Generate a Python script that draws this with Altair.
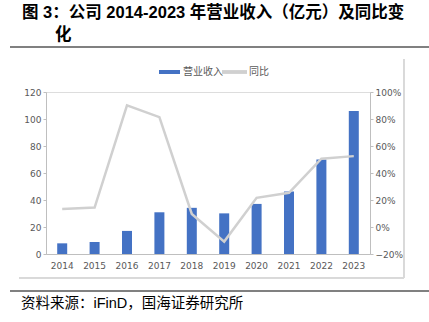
import altair as alt
import pandas as pd

years = ["2014", "2015", "2016", "2017", "2018", "2019", "2020", "2021", "2022", "2023"]
revenue = [7.9, 8.9, 17.1, 30.9, 34.2, 30.1, 37.1, 46.3, 70.0, 105.9]
yoy = [0.134, 0.144, 0.901, 0.814, 0.097, -0.108, 0.216, 0.253, 0.506, 0.525]
left_ticks = [0, 20, 40, 60, 80, 100, 120]
right_ticks = [-0.2, 0.0, 0.2, 0.4, 0.6, 0.8, 1.0]

title1 = "图 3：公司 2014-2023 年营业收入（亿元）及同比变"
title2 = "化"
source = "资料来源：iFinD，国海证券研究所"
leg_bar = "营业收入"
leg_line = "同比"

df = pd.DataFrame({"year": years, "revenue": revenue, "yoy": yoy})

L, T = 46, 92
W, H = 324, 162
FONT = "Liberation Sans, Noto Sans CJK SC"
AX = "#595959"
AXLINE = "#BFBFBF"

x = alt.X("year:N", sort=years, title=None,
          scale=alt.Scale(paddingInner=0, paddingOuter=0),
          axis=alt.Axis(labelAngle=0, ticks=False, domainColor=AXLINE, labelColor=AX,
                        labelFontSize=9, labelPadding=7, labelFont="DejaVu Sans"))

bars = alt.Chart(df).mark_bar(size=10, color="#4472C4").encode(
    x=x,
    y=alt.Y("revenue:Q", title=None,
            scale=alt.Scale(domain=[0, 120], nice=False, zero=True),
            axis=alt.Axis(values=left_ticks, grid=False, tickSize=3, tickColor=AXLINE,
                          domainColor=AXLINE, labelColor=AX, labelFontSize=9,
                          labelPadding=2, labelFont="DejaVu Sans")),
)

line = alt.Chart(df).mark_line(color="#D0D0D0", strokeWidth=2.5).encode(
    x=x,
    y=alt.Y("yoy:Q", title=None,
            scale=alt.Scale(domain=[-0.2, 1.0], nice=False, zero=False),
            axis=alt.Axis(orient="right", values=right_ticks, format=".0%", grid=False,
                          tickSize=3, tickColor=AXLINE, domainColor=AXLINE, labelColor=AX,
                          labelFontSize=9, labelPadding=2, labelFont="DejaVu Sans")),
)

data_layer = alt.layer(bars, line).resolve_scale(y="independent")


def hrule(x1, x2, y, color, w):
    return alt.Chart(df).mark_rule(color=color, strokeWidth=w, clip=False).encode(
        x=alt.value(x1 - L), x2=alt.value(x2 - L), y=alt.value(y - T))


def vrule(x0, y1, y2, color, w):
    return alt.Chart(df).mark_rule(color=color, strokeWidth=w, clip=False).encode(
        x=alt.value(x0 - L), y=alt.value(y1 - T), y2=alt.value(y2 - T))


def txt(s, xa, ya, size, color="#000000", weight="normal", font=FONT):
    return alt.Chart(pd.DataFrame({"t": [s]})).mark_text(
        align="left", baseline="middle", fontSize=size, color=color,
        fontWeight=weight, font=font, clip=False).encode(
        x=alt.value(xa - L), y=alt.value(ya - T), text="t:N")


deco = [
    hrule(10, 429, 47, "#808080", 2),
    hrule(10, 429, 291, "#808080", 2),
    hrule(19, 404, 278, "#D9D9D9", 1),
    vrule(404, 59, 278, "#D9D9D9", 1),
    alt.Chart(df).mark_rect(color="#4472C4", clip=False).encode(
        x=alt.value(159 - L), x2=alt.value(180 - L), y=alt.value(70 - T), y2=alt.value(74 - T)),
    hrule(222, 247, 72, "#D0D0D0", 2.5),
    txt(leg_bar, 183, 72, 10, AX, font="Noto Sans CJK SC"),
    txt(leg_line, 249, 72, 10, AX, font="Noto Sans CJK SC"),
    txt(title1, 22, 13, 16.5, "#000000", "bold"),
    txt(title2, 55, 35, 16.5, "#000000", "bold"),
    txt(source, 21, 304, 14.5, "#000000"),
]

chart = alt.layer(data_layer, *deco).properties(
    width=W, height=H,
    autosize=alt.AutoSizeParams(type="none"),
    padding={"left": L, "top": T, "right": 429 - L - W, "bottom": 322 - T - H},
).configure_view(stroke=None).configure(background="white")

chart.save("out.html", embed_options={"renderer": "svg", "actions": False})
